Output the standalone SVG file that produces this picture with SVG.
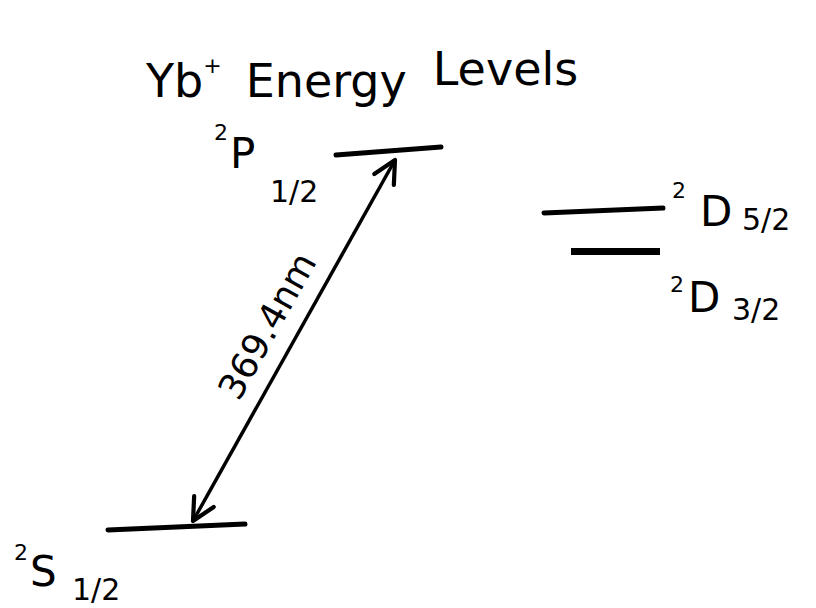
<svg xmlns="http://www.w3.org/2000/svg" width="816" height="608" viewBox="0 0 816 608">
<style>
text{font-family:"DejaVu Sans","Liberation Sans",sans-serif;fill:#000}
.lvl{stroke:#000;stroke-width:5;stroke-linecap:round;fill:none}
.big{font-size:46px}
.lab{font-size:42px}
.sup{font-size:22px}
.sub{font-size:30px}
</style>
<defs>
<marker id="ah" viewBox="0 0 20 20" refX="18" refY="10" markerWidth="8" markerHeight="8" markerUnits="strokeWidth" orient="auto-start-reverse">
<path d="M2,2 L18,10 L2,18" fill="none" stroke="#000" stroke-width="3" stroke-linecap="round" stroke-linejoin="round"/>
</marker>
</defs>
<rect width="816" height="608" fill="#fff"/>
<g id="title">
<text x="146" y="97" class="big">Yb<tspan class="sup" dy="-24" font-size="26">+</tspan><tspan dy="24" dx="24">Energy</tspan><tspan dx="26" dy="-12">Levels</tspan></text>
</g>
<g id="level-P">
<line class="lvl" x1="336" y1="155" x2="441" y2="147"/>
<text x="214" y="140" class="sup">2</text>
<text x="230" y="168" class="lab">P</text>
<text x="270" y="202" class="sub">1/2</text>
</g>
<g id="level-D52">
<line class="lvl" x1="544" y1="213" x2="663" y2="208"/>
<text x="672" y="198" class="sup">2</text>
<text x="700" y="226" class="lab">D</text>
<text x="742" y="230" class="sub">5/2</text>
</g>
<g id="level-D32">
<rect x="571" y="248" width="89" height="7" fill="#000"/>
<text x="670" y="292" class="sup">2</text>
<text x="688" y="312" class="lab">D</text>
<text x="732" y="320" class="sub">3/2</text>
</g>
<g id="level-S">
<line class="lvl" x1="108" y1="530" x2="245" y2="524"/>
<text x="14" y="560" class="sup">2</text>
<text x="30" y="586" class="lab">S</text>
<text x="72" y="600" class="sub">1/2</text>
</g>
<g id="connectors">
<line x1="193" y1="521" x2="395" y2="160" stroke="#000" stroke-width="3.5" marker-start="url(#ah)" marker-end="url(#ah)"/>
<text x="0" y="0" font-size="36" transform="translate(278,332) rotate(-60.8)" text-anchor="middle">369.4nm</text>
</g>
</svg>
